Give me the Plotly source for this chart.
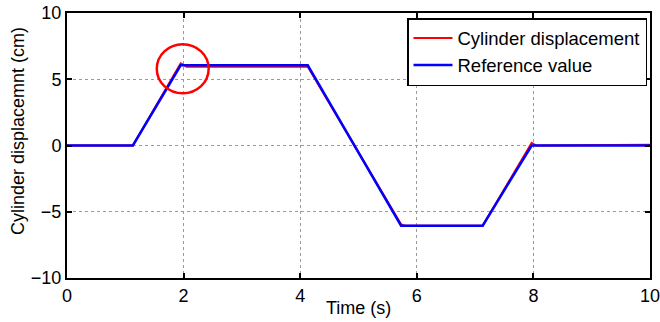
import plotly.graph_objects as go

# Reference value (blue)
t_ref = [0, 1.13, 1.95, 4.13, 5.73, 7.13, 7.97, 10]
y_ref = [0, 0, 6.05, 6.05, -6.05, -6.05, 0, 0]

# Cylinder displacement (red)
t_cyl = [0, 1.13, 1.95, 2.05, 4.13, 5.73, 5.80, 7.13, 7.97, 8.05, 10]
y_cyl = [0, 0, 6.2, 5.95, 5.95, -5.95, -6.05, -6.05, 0.2, 0.0, 0.05]

x_ticks = [0, 2, 4, 6, 8, 10]
y_ticks = [-10, -5, 0, 5, 10]

font = "Liberation Sans, Arial, sans-serif"
FS = 18

fig = go.Figure()
fig.add_trace(go.Scatter(x=t_cyl, y=y_cyl, mode="lines", name="Cylinder displacement",
                         line=dict(color="#ff0000", width=2)))
fig.add_trace(go.Scatter(x=t_ref, y=y_ref, mode="lines", name="Reference value",
                         line=dict(color="#0000ff", width=2.5)))

fig.add_shape(type="circle", xref="x", yref="y", x0=1.54, x1=2.43, y0=3.94, y1=7.65,
              line=dict(color="#ff0000", width=2.5))

axis_common = dict(showline=True, linecolor="black", linewidth=2, mirror="allticks",
                   ticks="inside", ticklen=5, tickcolor="black", tickwidth=1.5,
                   showgrid=True, gridcolor="#9a9a9a", griddash="dot", gridwidth=1,
                   zeroline=False, automargin=False, ticklabeloverflow="allow",
                   tickfont=dict(family=font, size=FS, color="black"))

# plot area in px: 583 x 265
fig.add_annotation(text="Time (s)", xref="paper", yref="paper", x=0.5, y=-30 / 265,
                   xanchor="center", yanchor="middle", showarrow=False,
                   font=dict(family=font, size=FS, color="black"))
fig.add_annotation(text="Cylinder displacemnt (cm)", xref="paper", yref="paper",
                   x=-49 / 583, y=(278 - 131) / 265, xanchor="center", yanchor="middle",
                   textangle=-90, showarrow=False,
                   font=dict(family=font, size=FS, color="black"))

fig.update_layout(
    width=660, height=322,
    margin=dict(l=67, r=10, t=13, b=44),
    paper_bgcolor="white", plot_bgcolor="white",
    font=dict(family=font, size=FS, color="black"),
    xaxis=dict(range=[0, 10], tickvals=x_ticks, **axis_common),
    yaxis=dict(range=[-10, 10], tickvals=y_ticks, **axis_common),
    legend=dict(x=1 - 3 / 583, y=1 - 5 / 265, xanchor="right", yanchor="top",
                bgcolor="white", bordercolor="black", borderwidth=1.5,
                itemwidth=39,
                font=dict(family=font, size=18.5), tracegroupgap=0),
    showlegend=True,
)

fig.write_html("out.html", config={"displayModeBar": False},
               post_script="document.body.style.margin='0';")
